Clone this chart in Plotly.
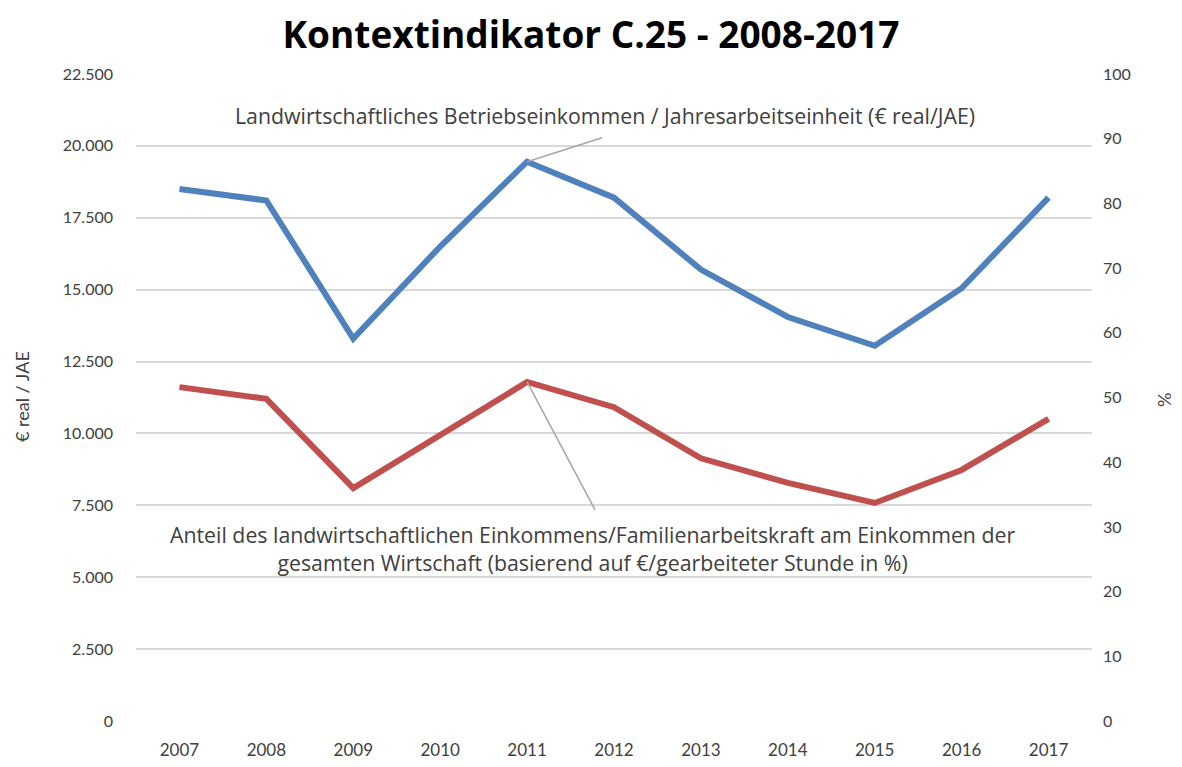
import plotly.graph_objects as go

years = ["2007", "2008", "2009", "2010", "2011", "2012", "2013", "2014", "2015", "2016", "2017"]
einkommen_jae = [18500, 18100, 13300, 16500, 19450, 18200, 15700, 14050, 13050, 15050, 18200]
anteil_pct = [51.6, 49.8, 36.0, 44.2, 52.4, 48.5, 40.6, 36.8, 33.7, 38.8, 46.7]
left_ticks = [0, 2500, 5000, 7500, 10000, 12500, 15000, 17500, 20000, 22500]
right_ticks = [0, 10, 20, 30, 40, 50, 60, 70, 80, 90, 100]

label_blue = "Landwirtschaftliches Betriebseinkommen / Jahresarbeitseinheit (€ real/JAE)"
label_red = ("Anteil des landwirtschaftlichen Einkommens/Familienarbeitskraft am Einkommen der<br>"
             "gesamten Wirtschaft (basierend auf €/gearbeiteter Stunde in %)")

tick_font = dict(family="Lato, Open Sans, sans-serif", size=16, color="#404040")
ann_font = dict(family="Open Sans, Lato, sans-serif", size=21.3, color="#404040")
title_font_axis = dict(family="Lato, Open Sans, sans-serif", size=18, color="#404040")

# page body has an 8px margin: figure origin sits at (8, 8) in the window
OFF = 8
plot_l, plot_r, plot_t, plot_b = 136, 1092, 74, 721
W, H = 1182 - 2 * OFF, 767 - 2 * OFF

fig = go.Figure()
fig.add_trace(go.Scatter(x=years, y=einkommen_jae, mode="lines", name="JAE",
                         line=dict(color="#4F81BD", width=6), yaxis="y"))
fig.add_trace(go.Scatter(x=years, y=anteil_pct, mode="lines", name="%",
                         line=dict(color="#C0504D", width=6), yaxis="y2"))


def py(ypix):
    return (plot_b - ypix) / (plot_b - plot_t)


def px(xpix):
    return (xpix - plot_l) / (plot_r - plot_l)


i11 = years.index("2011")
leader = dict(color="#A6A6A6", width=1.5)
shapes = [
    dict(type="line", xref="x", yref="y", xsizemode="pixel", ysizemode="pixel",
         xanchor=i11, yanchor=einkommen_jae[i11], x0=0, y0=0, x1=75, y1=24, line=leader),
    dict(type="line", xref="x", yref="y2", xsizemode="pixel", ysizemode="pixel",
         xanchor=i11, yanchor=anteil_pct[i11], x0=0, y0=0, x1=68, y1=-128, line=leader),
]

annotations = [
    dict(x=px(605), y=py(115), xref="paper", yref="paper", text=label_blue, showarrow=False,
         font=ann_font, xanchor="center", yanchor="middle"),
    dict(x=px(592), y=py(548), xref="paper", yref="paper", text=label_red, showarrow=False,
         font=ann_font, xanchor="center", yanchor="middle", align="center"),
    dict(x=px(22), y=py(397), xref="paper", yref="paper", text="€ real / JAE", showarrow=False,
         font=title_font_axis, textangle=-90, xanchor="center", yanchor="middle"),
    dict(x=px(1164), y=py(400), xref="paper", yref="paper", text="%", showarrow=False,
         font=title_font_axis, textangle=-90, xanchor="center", yanchor="middle"),
]

fig.update_layout(
    width=W, height=H,
    margin=dict(l=plot_l - OFF, r=W - (plot_r - OFF), t=plot_t - OFF, b=H - (plot_b - OFF),
                autoexpand=False),
    paper_bgcolor="white", plot_bgcolor="white",
    showlegend=False,
    separators=",.",
    title=dict(text="<b>Kontextindikator C.25 - 2008-2017</b>", x=0.5, xanchor="center",
               y=1 - (35 - OFF) / H, yanchor="middle",
               font=dict(family="Open Sans, Lato, sans-serif", size=37, color="#000000")),
    xaxis=dict(type="category", range=[-0.5, 10.5], showgrid=False, showline=False,
               zeroline=False, ticks="", tickfont=dict(tick_font, size=17), ticklabelstandoff=17,
               automargin=False),
    yaxis=dict(range=[0, 22500], tickvals=left_ticks, tickformat=",d", showgrid=True,
               gridcolor="#D9D9D9", gridwidth=2, zeroline=False, showline=False, ticks="",
               tickfont=tick_font, ticklabelstandoff=22, automargin=False),
    yaxis2=dict(range=[0, 100], tickvals=right_ticks, overlaying="y", side="right", showgrid=False,
                zeroline=False, showline=False, ticks="", tickfont=tick_font, ticklabelstandoff=10,
                automargin=False),
    shapes=shapes,
    annotations=annotations,
)

fig.write_html("out.html")
